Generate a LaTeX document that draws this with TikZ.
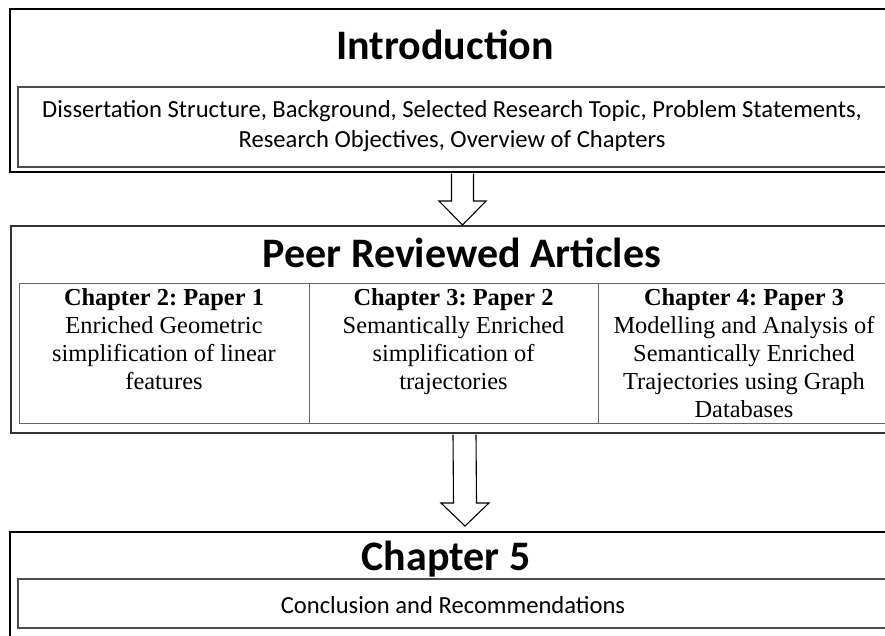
\documentclass[tikz,border=0pt]{standalone}
\usepackage{fontspec}
\setmainfont{Liberation Serif}
\newfontfamily\calfont{Carlito}
\usetikzlibrary{calc}
\begin{document}
\frenchspacing
\begin{tikzpicture}[x=1pt,y=-1pt,
  box/.style={inner sep=0pt, outer sep=0pt, anchor=north west},
  outerline/.style={draw=black, line width=2.6pt},
  peerline/.style={draw=black!80, line width=2.2pt},
  innerline/.style={draw=black!70, line width=1.3pt},
  cellline/.style={draw=black!60, line width=0.9pt},
  title/.style={font=\calfont\bfseries\fontsize{42}{50}\selectfont, anchor=base, inner sep=0pt},
  sub/.style={font=\calfont\fontsize{24.6}{30}\selectfont, anchor=base, inner sep=0pt},
  coltext/.style={font=\fontsize{24.4}{28}\selectfont, anchor=base, inner sep=0pt},
  colhead/.style={coltext, font=\bfseries\fontsize{24.4}{28}\selectfont},
  arrowline/.style={draw=black, line width=1.1pt, fill=white, line join=miter}
]
\useasboundingbox (0,0) rectangle (885,635);
\begin{scope}
\clip (0,0) rectangle (885,635);
% frames (open on the right: they run past the picture's edge)
\node[box, minimum width=900pt, minimum height=163pt] (intro) at (10,9) {};
\node[box, minimum width=892pt, minimum height=80pt] (introin) at (18,87) {};
\node[box, minimum width=899pt, minimum height=207pt] (peer) at (11,226) {};
\node[box, minimum width=290pt, minimum height=140pt] (col1) at (19,283) {};
\node[box, minimum width=289pt, minimum height=140pt] (col2) at (309,283) {};
\node[box, minimum width=302pt, minimum height=140pt] (col3) at (598,283) {};
\node[box, minimum width=900pt, minimum height=130pt] (ch5) at (10,532) {};
\node[box, minimum width=892pt, minimum height=49pt] (ch5in) at (18,579) {};
\draw[outerline] (intro.north east) -- (intro.north west) -- (intro.south west) -- (intro.south east);
\draw[innerline] (introin.north east) -- (introin.north west) -- (introin.south west) -- (introin.south east);
\draw[peerline] (peer.north east) -- (peer.north west) -- (peer.south west) -- (peer.south east);
\draw[cellline] (col3.north east) -- (col1.north west) -- (col1.south west) -- (col3.south east);
\draw[cellline] (col2.north west) -- (col2.south west);
\draw[cellline] (col3.north west) -- (col3.south west);
\draw[outerline] (ch5.north east) -- (ch5.north west) -- (ch5.south west) -- (ch5.south east);
\draw[innerline] (ch5in.north east) -- (ch5in.north west) -- (ch5in.south west) -- (ch5in.south east);
% texts
\node[title] (introtitle) at (445,59) {Introduction};
\node[sub] (introl1) at (452,117) {Dissertation Structure, Background, Selected Research Topic, Problem Statements,};
\node[sub] (introl2) at (452,147) {Research Objectives, Overview of Chapters};
\node[title] (peertitle) at (462,267) {Peer Reviewed Articles};
\node[colhead] (c1a) at (164,305) {Chapter 2: Paper 1};
\node[coltext] (c1b) at (164,333) {Enriched Geometric};
\node[coltext] (c1c) at (164,361) {simplification of linear};
\node[coltext] (c1d) at (164,389) {features};
\node[colhead] (c2a) at (453.5,305) {Chapter 3: Paper 2};
\node[coltext] (c2b) at (453.5,333) {Semantically Enriched};
\node[coltext] (c2c) at (453.5,361) {simplification of};
\node[coltext] (c2d) at (453.5,389) {trajectories};
\node[colhead] (c3a) at (744,305) {Chapter 4: Paper 3};
\node[coltext] (c3b) at (744,333) {Modelling and Analysis of};
\node[coltext] (c3c) at (744,361) {Semantically Enriched};
\node[coltext] (c3d) at (744,389) {Trajectories using Graph};
\node[coltext] (c3e) at (744,417) {Databases};
\node[title] (ch5title) at (446,570) {Chapter 5};
\node[sub] (ch5text) at (453,613) {Conclusion and Recommendations};
% arrows
\coordinate (a1s) at ($(intro.south west)+(452.5,1.5)$);
\coordinate (a1e) at ($(peer.north west)+(451.5,-1)$);
\draw[arrowline] ($(a1s)+(-11,0)$) -- ($(a1e)+(-11,-24)$) -- ($(a1e)+(-23.5,-24)$) -- (a1e)
  -- ($(a1e)+(23.5,-24)$) -- ($(a1e)+(11,-24)$) -- ($(a1s)+(11,0)$);
\coordinate (a2s) at ($(peer.south west)+(453.5,1.5)$);
\coordinate (a2e) at ($(ch5.north west)+(455,-6)$);
\draw[arrowline] ($(a2s)+(-11.5,0)$) -- ($(a2e)+(-11.5,-23)$) -- ($(a2e)+(-24,-23)$) -- (a2e)
  -- ($(a2e)+(24,-23)$) -- ($(a2e)+(11.5,-23)$) -- ($(a2s)+(11.5,0)$);
\end{scope}
\end{tikzpicture}
\end{document}
